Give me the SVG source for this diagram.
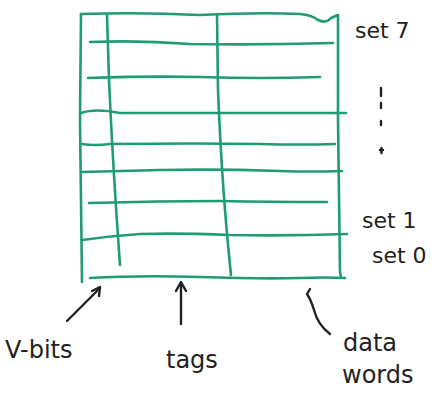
<svg xmlns="http://www.w3.org/2000/svg" width="434" height="396" viewBox="0 0 434 396">
  <style>
    .grid { fill: none; stroke: #1f9c72; stroke-width: 2.6; stroke-linecap: round; stroke-linejoin: round; }
    .ink { fill: none; stroke: #222; stroke-width: 2.4; stroke-linecap: round; stroke-linejoin: round; }
    .lbl { font-family: "DejaVu Sans", "Liberation Sans", sans-serif; font-size: 22px; fill: #222; }
    .big { font-size: 24px; }
  </style>
  <rect width="434" height="396" fill="#ffffff"/>

  <!-- cache array: outer frame, column dividers and set rows -->
  <g id="cache-array" class="grid">
    <!-- outer frame -->
    <path d="M81 14 Q140 12 200 15 Q260 12 300 14 Q312 15 318 20 Q326 24 331 18 L338 15 L338 120 Q339 200 340 272 L341 277"/>
    <path d="M81 14 L80 120 Q81 200 82 282"/>
    <path d="M90 278 Q140 275 200 277 Q260 279 300 278 Q325 277 345 278"/>
    <!-- column dividers -->
    <path d="M107 15 L109 80 Q113 170 120 265"/>
    <path d="M217 14 L218 90 Q222 190 231 275"/>
    <!-- set rows -->
    <path d="M90 42 Q140 40 190 44 Q260 45 333 43"/>
    <path d="M88 78 Q150 76 200 77 Q260 79 320 77"/>
    <path d="M81 113 Q95 108 120 113 Q200 113 260 113 Q300 113 346 113"/>
    <path d="M82 144 Q95 146 110 144 Q200 143 260 144 Q300 145 335 144"/>
    <path d="M82 172 Q120 171 160 170 Q220 169 280 171 Q310 172 342 171"/>
    <path d="M89 203 Q160 201 220 201 Q270 202 327 202"/>
    <path d="M82 240 Q110 236 140 234 Q180 233 230 235 Q290 236 347 234"/>
  </g>

  <!-- set labels on the right -->
  <g id="set-labels">
    <text class="lbl" x="355" y="38">set 7</text>
    <g class="ink" stroke-width="1.8">
      <path d="M381 88 L381 96"/>
      <path d="M381 103 L381 108"/>
      <path d="M381 121 L381 125"/>
      <path d="M380 150 L383 150 M381.5 148 L381.5 153"/>
    </g>
    <text class="lbl" x="362" y="228">set 1</text>
    <text class="lbl" x="372" y="263">set 0</text>
  </g>

  <!-- pointer lines from the labels to the columns -->
  <g id="connectors" class="ink">
    <path d="M67 321 L100 288"/>
    <path d="M92 291 L100 287 L99 296"/>
    <path d="M181 324 L181 283"/>
    <path d="M176 291 L181 282 L186 291"/>
    <path d="M330 334 Q318 325 314 310 Q311 300 307 294 L310 289"/>
  </g>

  <g id="label-vbits"><text class="lbl big" x="5" y="358">V-bits</text></g>
  <g id="label-tags"><text class="lbl big" x="166" y="368">tags</text></g>
  <g id="label-data-words">
    <text class="lbl big" x="343" y="351">data</text>
    <text class="lbl big" x="342" y="383">words</text>
  </g>
</svg>
